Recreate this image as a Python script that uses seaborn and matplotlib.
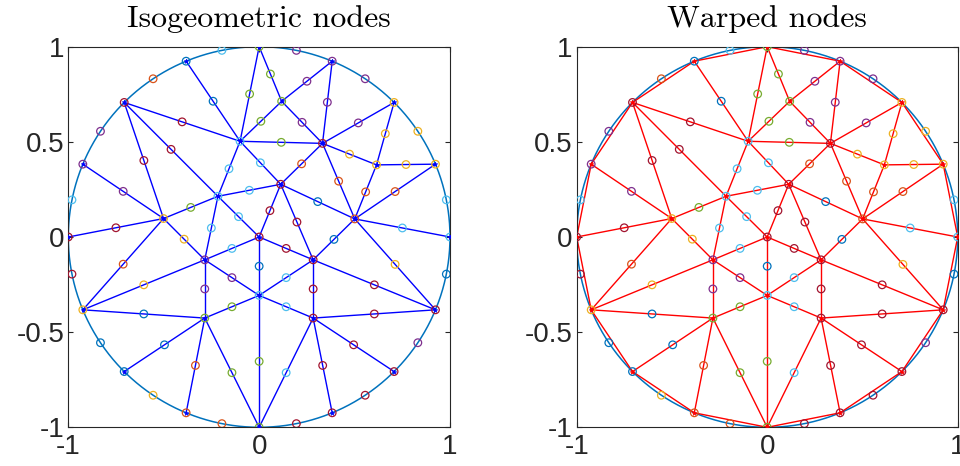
import numpy as np
import pandas as pd
import matplotlib
matplotlib.use("Agg")
import matplotlib.pyplot as plt
import seaborn as sns

# MATLAB default colour order, used for the node markers
palette = {
    "blue": "#0072BD", "orange": "#D95319", "yellow": "#EDB120",
    "purple": "#7E2F8E", "green": "#77AC30", "cyan": "#4DBEEE",
    "darkred": "#A2142F",
}

# Boundary vertices b0..b15 on the unit circle (angles in degrees)
bnd_angle = [0, 22.5, 45, 67.5, 90, 112.5, 135, 157.5,
             180, 202.5, 225, 247.5, 270, 292.5, 315, 337.5]
bnd_color = ["cyan", "yellow", "yellow", "purple", "green", "blue", "darkred", "purple",
             "darkred", "yellow", "blue", "orange", "green", "darkred", "darkred", "darkred"]

# Interior vertices
int_name = ["A", "B", "C", "D", "E", "F", "G", "H", "I", "J", "K", "L", "M", "N"]
int_x = [-0.100, -0.216, -0.501, 0.000, 0.118, 0.332, 0.615, 0.113, 0.501,
         -0.285, -0.285, 0.000, 0.283, 0.283]
int_y = [0.503, 0.214, 0.097, 0.000, 0.713, 0.492, 0.379, 0.277, 0.095,
         -0.120, -0.426, -0.307, -0.120, -0.426]
int_color = ["cyan", "cyan", "yellow", "darkred", "green", "darkred", "yellow", "darkred",
             "orange", "purple", "green", "cyan", "darkred", "darkred"]

# Mid-arc node colours for boundary edges (b_k, b_k+1)
arc_color = ["cyan", "yellow", "purple", "purple", "cyan", "orange", "purple", "cyan",
             "darkred", "blue", "yellow", "orange", "darkred", "darkred", "purple", "blue"]

# Interior mesh edges and the colour of their midpoint node
edge_a = ["b4", "b3", "b3", "E", "b2", "b2", "F", "b1", "b1", "G", "b0", "b15", "b15", "b15",
          "M", "b14", "b13", "b12", "b12", "L", "L", "D", "D", "D", "H", "I", "H", "F", "F",
          "H", "A", "A", "b4", "A", "A", "A", "B", "B", "b6", "b6", "b7", "b8", "b9", "C",
          "B", "B", "D", "J", "J", "b9", "b9", "b10", "b11", "b12", "K"]
edge_b = ["E", "E", "F", "F", "F", "G", "G", "G", "I", "I", "I", "I", "M", "N",
          "N", "N", "N", "N", "L", "N", "M", "L", "M", "H", "M", "M", "I", "H", "I",
          "A", "F", "E", "A", "b5", "b6", "B", "H", "D", "B", "C", "C", "C", "C", "J",
          "C", "J", "J", "L", "K", "J", "K", "K", "K", "K", "L"]
edge_color = ["green", "purple", "purple", "purple", "purple", "yellow", "yellow", "yellow",
              "orange", "orange", "cyan", "yellow", "darkred", "darkred", "darkred", "darkred",
              "darkred", "cyan", "green", "cyan", "cyan", "blue", "darkred", "darkred",
              "darkred", "blue", "blue", "orange", "orange", "cyan", "green", "green", "green",
              "blue", "darkred", "cyan", "cyan", "cyan", "darkred", "darkred", "purple",
              "darkred", "orange", "yellow", "green", "cyan", "cyan", "purple", "purple",
              "yellow", "blue", "blue", "orange", "green", "green"]

tick_vals_y = [-1, -0.5, 0, 0.5, 1]
tick_text_y = ["-1", "-0.5", "0", "0.5", "1"]
tick_vals_x = [-1, 0, 1]
tick_text_x = ["-1", "0", "1"]
titles = ["Isogeometric nodes", "Warped nodes"]

# ---- geometry ---------------------------------------------------------
pos = {}
for k, a in enumerate(bnd_angle):
    t = np.deg2rad(a)
    pos[f"b{k}"] = (np.cos(t), np.sin(t))
for n, x, y in zip(int_name, int_x, int_y):
    pos[n] = (x, y)

rows = []
for k, (a, c) in enumerate(zip(bnd_angle, bnd_color)):
    rows.append((pos[f"b{k}"][0], pos[f"b{k}"][1], c))
for n, c in zip(int_name, int_color):
    rows.append((pos[n][0], pos[n][1], c))
nb = len(bnd_angle)
for k, c in enumerate(arc_color):
    a0 = bnd_angle[k]
    a1 = bnd_angle[(k + 1) % nb] + (360 if k == nb - 1 else 0)
    t = np.deg2rad(0.5 * (a0 + a1))
    rows.append((np.cos(t), np.sin(t), c))
for a, b, c in zip(edge_a, edge_b, edge_color):
    rows.append((0.5 * (pos[a][0] + pos[b][0]), 0.5 * (pos[a][1] + pos[b][1]), c))
nodes = pd.DataFrame(rows, columns=["x", "y", "color"])

# ---- styling ----------------------------------------------------------
sns.set_style("ticks")
plt.rcParams.update({
    "font.family": ["Liberation Sans", "DejaVu Sans"],
    "axes.unicode_minus": False,
    "xtick.direction": "in", "ytick.direction": "in",
    "xtick.top": True, "ytick.right": True,
    "axes.edgecolor": "#262626", "axes.linewidth": 0.8,
})

fig = plt.figure(figsize=(9.6, 4.66), dpi=100)
W, H = 960, 466
ax_left = fig.add_axes([68.3 / W, (H - 427.3) / H, 381.7 / W, 380.6 / H])
ax_right = fig.add_axes([576.7 / W, (H - 427.3) / H, 381.0 / W, 380.6 / H])

theta = np.linspace(0, 2 * np.pi, 721)
verts = pd.DataFrame({"x": [p[0] for p in pos.values()], "y": [p[1] for p in pos.values()]})

for i, (ax, line_col) in enumerate([(ax_left, "#0000FF"), (ax_right, "#FF0000")]):
    # mesh edges
    for a, b in zip(edge_a, edge_b):
        ax.plot([pos[a][0], pos[b][0]], [pos[a][1], pos[b][1]],
                color=line_col, lw=1.0, zorder=2)
    if i == 1:
        # straight-sided boundary triangles
        for k in range(nb):
            p0, p1 = pos[f"b{k}"], pos[f"b{(k + 1) % nb}"]
            ax.plot([p0[0], p1[0]], [p0[1], p1[1]], color=line_col, lw=1.0, zorder=2)
    ax.plot(np.cos(theta), np.sin(theta), color=palette["blue"], lw=1.1, zorder=1.5)

    # nodes
    sns.scatterplot(data=nodes, x="x", y="y", hue="color", palette=palette,
                    marker="o", s=30, linewidth=0.9, legend=False, ax=ax, zorder=4)
    pc = ax.collections[-1]
    pc.set_edgecolors(pc.get_facecolors())
    pc.set_facecolors("none")

    # vertex markers
    ax.plot(verts["x"], verts["y"], ls="none", marker="*", ms=3.5,
            color=line_col, mew=0.4, zorder=3)

    ax.set_xlim(-1, 1)
    ax.set_ylim(-1, 1)
    ax.set_xticks(tick_vals_x, tick_text_x)
    ax.set_yticks(tick_vals_y, tick_text_y)
    ax.tick_params(labelsize=20, length=3.5, width=0.8, color="#262626",
                   labelcolor="#262626")
    ax.tick_params(axis="x", pad=5)
    ax.tick_params(axis="y", pad=3)
    ax.set_xlabel("")
    ax.set_ylabel("")
    for s in ax.spines.values():
        s.set_visible(True)
    ax.text(0.5, 1 + 19.4 / 380.6, titles[i], transform=ax.transAxes,
            ha="center", va="baseline", fontsize=23, family="cmr10", color="black")

fig.savefig("out.png", dpi=100)
